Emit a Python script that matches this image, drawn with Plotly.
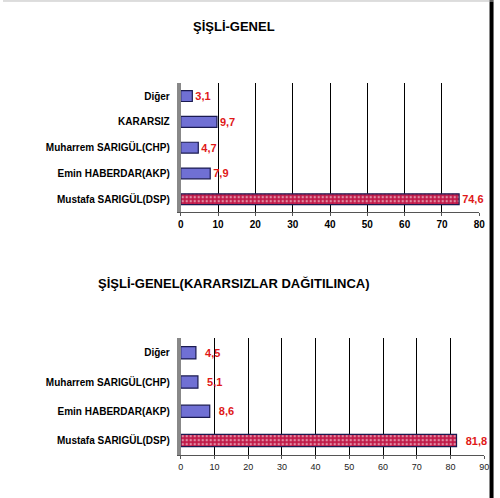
import plotly.graph_objects as go

# top chart: ŞİŞLİ-GENEL
cats1 = ["Diğer", "KARARSIZ", "Muharrem SARIGÜL(CHP)", "Emin HABERDAR(AKP)", "Mustafa SARIGÜL(DSP)"]
vals1 = [3.1, 9.7, 4.7, 7.9, 74.6]
labels1 = ["3,1", "9,7", "4,7", "7,9", "74,6"]

# bottom chart: undecided redistributed
cats2 = ["Diğer", "Muharrem SARIGÜL(CHP)", "Emin HABERDAR(AKP)", "Mustafa SARIGÜL(DSP)"]
vals2 = [4.5, 5.1, 8.6, 81.8]
labels2 = ["4,5", "5,1", "8,6", "81,8"]

title1 = "ŞİŞLİ-GENEL"
title2 = "ŞİŞLİ-GENEL(KARARSIZLAR DAĞITILINCA)"

BLUE = "#7070d4"
RED = "#c01848"
FONT = "Liberation Sans, Arial, sans-serif"


def bar_colors(cats):
    return [RED if c.startswith("Mustafa") else BLUE for c in cats]


def bar_patterns(cats):
    return ["." if c.startswith("Mustafa") else "" for c in cats]


fig = go.Figure()

fig.add_trace(go.Bar(
    x=vals1, y=cats1, orientation="h", xaxis="x", yaxis="y",
    marker=dict(color=bar_colors(cats1), line=dict(color="#1a1a50", width=1.2),
                pattern=dict(shape=bar_patterns(cats1), fgcolor="#f070a0", size=4, solidity=0.3)),
    width=0.42, text=labels1, textposition="outside", cliponaxis=False,
    constraintext="none",
    textfont=dict(color="#e01818", size=11, family=FONT, weight="bold"),
    showlegend=False,
))
fig.add_trace(go.Bar(
    x=vals2, y=cats2, orientation="h", xaxis="x2", yaxis="y2",
    marker=dict(color=bar_colors(cats2), line=dict(color="#1a1a50", width=1.2),
                pattern=dict(shape=bar_patterns(cats2), fgcolor="#f070a0", size=4, solidity=0.3)),
    width=0.42, text=labels2, texttemplate="  %{text}", textposition="outside", cliponaxis=False,
    constraintext="none",
    textfont=dict(color="#e01818", size=11, family=FONT, weight="bold"),
    showlegend=False,
))

cat_font = dict(family=FONT, size=10, color="black", weight="bold")

fig.update_layout(
    width=500, height=498,
    margin=dict(l=0, r=0, t=0, b=0),
    paper_bgcolor="white", plot_bgcolor="white",
    font=dict(family=FONT, color="black"),
    xaxis=dict(domain=[0.362, 0.97], range=[0, 80], dtick=10, anchor="y",
               showgrid=True, gridcolor="black", gridwidth=1,
               showline=True, linecolor="#555", ticks="outside", ticklen=3, tickcolor="#555",
               tickfont=dict(family=FONT, size=10, color="black", weight="bold"),
               zeroline=False, fixedrange=True),
    yaxis=dict(domain=[0.574, 0.833], anchor="x", autorange="reversed",
               showline=True, linecolor="#888", linewidth=4,
               tickfont=cat_font, ticks="", ticklabelstandoff=5, fixedrange=True),
    xaxis2=dict(domain=[0.362, 0.98], range=[0, 90], dtick=10, anchor="y2",
                showgrid=True, gridcolor="black", gridwidth=1,
                showline=True, linecolor="#555", ticks="outside", ticklen=3, tickcolor="#555",
                tickfont=dict(family=FONT, size=9, color="#222"),
                zeroline=False, fixedrange=True),
    yaxis2=dict(domain=[0.086, 0.321], anchor="x2", autorange="reversed",
                showline=True, linecolor="#888", linewidth=4,
                tickfont=cat_font, ticks="", ticklabelstandoff=5, fixedrange=True),
    annotations=[
        dict(text="<b>" + title1 + "</b>", x=0.47, y=0.966, xref="paper", yref="paper",
             showarrow=False, font=dict(family=FONT, size=13, color="black")),
        dict(text="<b>" + title2 + "</b>", x=0.47, y=0.43, xref="paper", yref="paper",
             showarrow=False, font=dict(family=FONT, size=13, color="black")),
    ],
    shapes=[
        dict(type="line", xref="paper", yref="paper", x0=0.995, x1=0.995, y0=0, y1=1,
             line=dict(color="black", width=4)),
        dict(type="line", xref="paper", yref="paper", x0=0, x1=1, y0=0.998, y1=0.998,
             line=dict(color="#bbb", width=1)),
    ],
)

fig.write_html("out.html", config={"displayModeBar": False},
               post_script="document.body.style.margin='0';")
